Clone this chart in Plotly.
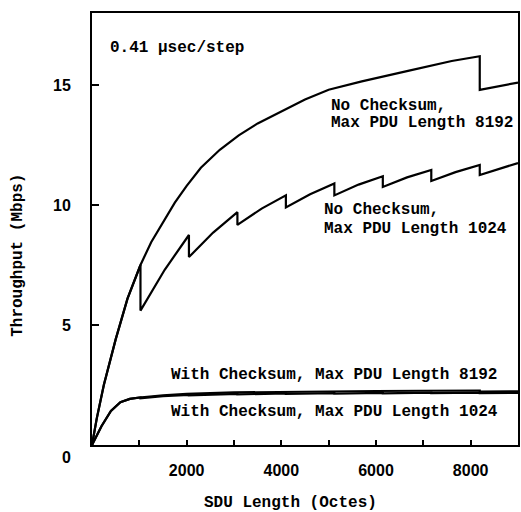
import plotly.graph_objects as go

# ---- data ----
nc8192_x = [0, 100, 250, 500, 750, 1024, 1250, 1500, 1750, 2000, 2300, 2700, 3100, 3500, 4000, 4500, 5000,
            5700, 6700, 7600, 8192, 8192, 9000]
nc8192_y = [0, 1.1, 2.5, 4.4, 6.1, 7.5, 8.45, 9.3, 10.1, 10.8, 11.55, 12.3, 12.9, 13.4, 13.9, 14.4, 14.8,
            15.15, 15.6, 16.0, 16.2, 14.8, 15.1]

nc1024_x = [0, 100, 250, 500, 750, 1024, 1024, 1536, 2048, 2048, 2560, 3072, 3072, 3584, 4096, 4096,
            4608, 5120, 5120, 5632, 6144, 6144, 6656, 7168, 7168, 7680, 8192, 8192, 9000]
nc1024_y = [0, 1.1, 2.5, 4.4, 6.1, 7.5, 5.6, 7.3, 8.75, 7.83, 8.85, 9.7, 9.17, 9.85, 10.4, 9.9,
            10.45, 10.9, 10.4, 10.85, 11.2, 10.75, 11.15, 11.46, 11.0, 11.37, 11.67, 11.25, 11.75]

wc8192_x = [0, 100, 200, 400, 600, 800, 1000, 1500, 2000, 3000, 4000, 5000, 6000, 7000, 8192, 8192, 9000]
wc8192_y = [0, 0.4, 0.78, 1.42, 1.78, 1.92, 1.98, 2.07, 2.13, 2.19, 2.22, 2.24, 2.25, 2.26, 2.27, 2.23, 2.24]

wc1024_x = [0, 100, 200, 400, 600, 800, 1024, 1024, 1500, 2048, 2048, 3072, 3072, 4096, 4096, 5120, 5120,
            6144, 6144, 7168, 7168, 8192, 8192, 9000]
wc1024_y = [0, 0.4, 0.78, 1.42, 1.78, 1.92, 1.98, 1.95, 2.04, 2.09, 2.07, 2.13, 2.11, 2.15, 2.13, 2.16, 2.14,
            2.17, 2.15, 2.18, 2.16, 2.18, 2.16, 2.17]

x_tickvals = [2000, 4000, 6000, 8000]
x_ticktext = ["2000", "4000", "6000", "8000"]
x_minorvals = [1000, 3000, 5000, 7000]
y_tickvals = [5, 10, 15]
y_ticktext = ["5", "10", "15"]

MONO = "Liberation Mono"
SANS = "Liberation Sans"

fig = go.Figure()
for xs, ys in [(nc8192_x, nc8192_y), (nc1024_x, nc1024_y), (wc8192_x, wc8192_y), (wc1024_x, wc1024_y)]:
    fig.add_trace(go.Scatter(x=xs, y=ys, mode="lines", line=dict(color="black", width=2.2),
                             showlegend=False, hoverinfo="skip", cliponaxis=True))

def label(text, x, y, size=16, xref="x", yref="y", xanchor="left", **kw):
    fig.add_annotation(text=text, x=x, y=y, xref=xref, yref=yref, xanchor=xanchor, yanchor="middle",
                       showarrow=False, font=dict(family=MONO, size=size, color="black", weight="bold"), **kw)

label("0.41 \u00b5sec/step", 330, 16.54)
label("No Checksum,", 5010, 14.12)
label("Max PDU Length 8192", 5010, 13.42)
label("No Checksum,", 4860, 9.78)
label("Max PDU Length 1024", 4860, 9.02)
label("With Checksum, Max PDU Length 8192", 1630, 2.92)
label("With Checksum, Max PDU Length 1024", 1630, 1.375)

# axis titles
label("Throughput (Mbps)", -0.174, 0.44, xref="paper", yref="paper", xanchor="center", textangle=-90)
label("SDU Length (Octes)", 0.467, -0.134, xref="paper", yref="paper", xanchor="center")

# y zero label (sits below the axis in the reference)
fig.add_annotation(text="0", x=-0.059, y=0, xref="paper", yref="y", xanchor="center", yanchor="middle",
                   yshift=-12, showarrow=False,
                   font=dict(family=SANS, size=16, color="black", weight="bold"))

fig.update_layout(
    template="none",
    width=521, height=512,
    margin=dict(l=92, r=3, t=13, b=67, autoexpand=False),
    paper_bgcolor="white", plot_bgcolor="white",
    xaxis=dict(range=[0, 9000], showgrid=False, zeroline=False, automargin=False,
               showline=True, linecolor="black", linewidth=2, mirror=True,
               tickvals=x_tickvals, ticktext=x_ticktext,
               ticks="inside", ticklen=5, tickwidth=2, tickcolor="black",
               minor=dict(tickvals=x_minorvals, ticks="inside", ticklen=5, tickwidth=2, tickcolor="black"),
               ticklabelstandoff=10,
               tickfont=dict(family=SANS, size=16, color="black", weight="bold")),
    yaxis=dict(range=[0, 18], showgrid=False, zeroline=False, automargin=False,
               showline=True, linecolor="black", linewidth=2, mirror=True,
               tickvals=y_tickvals, ticktext=y_ticktext,
               ticks="inside", ticklen=7, tickwidth=2, tickcolor="black",
               ticklabelstandoff=16,
               tickfont=dict(family=SANS, size=16, color="black", weight="bold")),
)

fig.write_html("out.html",
               config={"displayModeBar": False},
               post_script="document.body.style.margin='0';document.body.style.padding='0';"
                           "document.documentElement.style.overflow='hidden';")
